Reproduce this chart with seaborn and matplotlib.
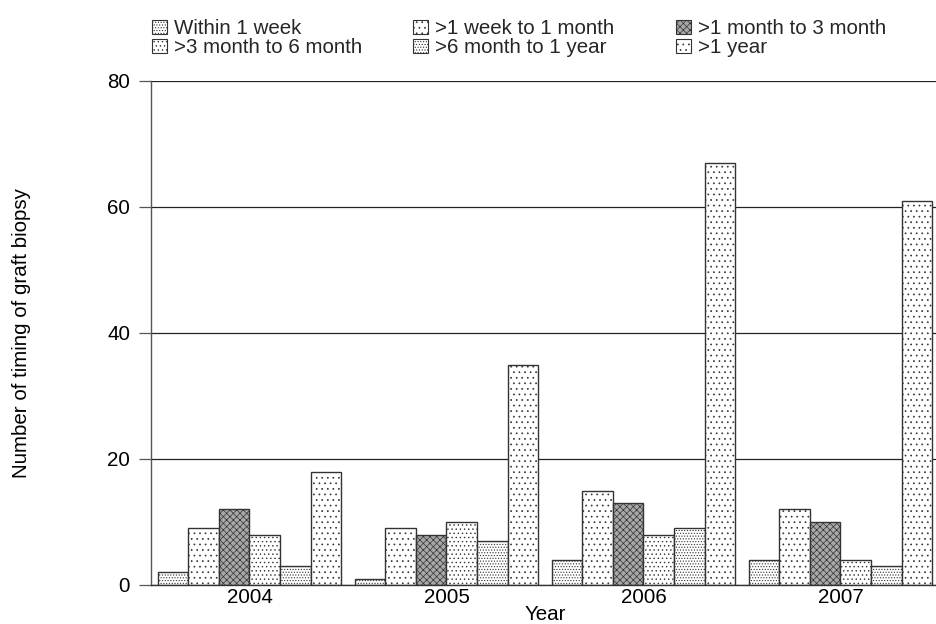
import matplotlib
matplotlib.use('Agg')
import matplotlib.pyplot as plt
import matplotlib.patches as mpatches
import seaborn as sns
import pandas as pd

years = ['2004', '2005', '2006', '2007']
categories = ['Within 1 week', '>1 week to 1 month', '>1 month to 3 month',
              '>3 month to 6 month', '>6 month to 1 year', '>1 year']
within_1_week = [2, 1, 4, 4]
week_to_month = [9, 9, 15, 12]
month_to_3month = [12, 8, 13, 10]
m3_to_m6 = [8, 10, 8, 4]
m6_to_year = [3, 7, 9, 3]
over_year = [18, 35, 67, 61]
y_ticks = [0, 20, 40, 60, 80]

series = [within_1_week, week_to_month, month_to_3month, m3_to_m6, m6_to_year, over_year]
rows = []
for cat, vals in zip(categories, series):
    for yr, v in zip(years, vals):
        rows.append((yr, cat, v))
df = pd.DataFrame(rows, columns=['Year', 'Timing', 'Count'])

sns.set_theme(style='white')
plt.rcParams['font.family'] = ['Liberation Sans', 'DejaVu Sans']
plt.rcParams['hatch.linewidth'] = 0.5
plt.rcParams['hatch.color'] = 'black'

FS = 14.8
fig = plt.figure(figsize=(9.37, 6.24), dpi=100)
ax = fig.add_axes([151 / 937, 39 / 624, 788 / 937, 504 / 624])

face = ['white', 'white', '#a8a8a8', 'white', 'white', 'white']
hatches = ['......', '...', 'xxxxx', '....', '......', '...']
edge = '#333333'

sns.barplot(data=df, x='Year', y='Count', hue='Timing', order=years,
            hue_order=categories, palette=dict(zip(categories, face)),
            width=0.93, saturation=1, edgecolor=edge, linewidth=1.0,
            legend=False, ax=ax, errorbar=None)
for cont, h in zip(ax.containers, hatches):
    for bar in cont:
        bar.set_hatch(h)

ax.set_xlim(-0.5, 3.5)
ax.set_ylim(0, 80)
ax.set_yticks(y_ticks)
ax.yaxis.grid(True, color='#222222', lw=0.9)
ax.xaxis.grid(False)
ax.set_axisbelow(True)
for s in ['top', 'right']:
    ax.spines[s].set_visible(False)
ax.spines['left'].set_color('#555555')
ax.spines['left'].set_linewidth(1.0)
ax.spines['bottom'].set_color('#333333')
ax.spines['bottom'].set_linewidth(1.0)

ax.tick_params(axis='y', left=True, length=8.6, width=0.9, color='#555555',
               pad=6.5, labelsize=FS, direction='out', labelcolor='black')
ax.tick_params(axis='x', bottom=False, length=0, pad=2.5, labelsize=FS, labelcolor='black')

ax.set_xlabel('Year', fontsize=FS, labelpad=-1.5, color='black')
ax.set_ylabel('Number of timing of graft biopsy', fontsize=FS, color='black')
ax.yaxis.set_label_coords(-0.152, 0.5)

col_x = [152, 413, 676]
for col in range(3):
    idx = [col, col + 3]
    handles = [mpatches.Patch(facecolor=face[i], edgecolor=edge, hatch=hatches[i], lw=0.8)
               for i in idx]
    fig.legend(handles, [categories[i] for i in idx], loc='upper left',
               bbox_to_anchor=(col_x[col] / 937, 1 - 19 / 624), frameon=False,
               borderpad=0, borderaxespad=0, handlelength=0.72, handleheight=0.68,
               handletextpad=0.35, labelspacing=0.0, fontsize=FS)

fig.savefig('out.png', dpi=100)
